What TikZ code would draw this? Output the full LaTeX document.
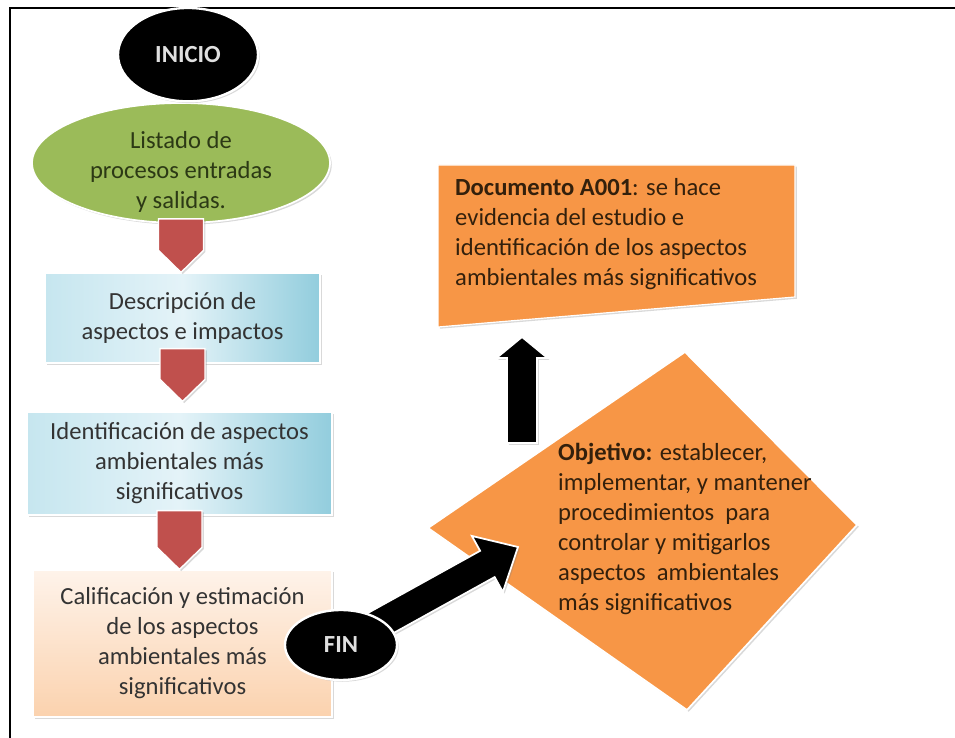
\documentclass[tikz,border=0pt]{standalone}
\usepackage{fontspec}
\setmainfont{Carlito}
\usepackage{tikz}
\usetikzlibrary{calc}
\usetikzlibrary{shapes.geometric}
\usetikzlibrary{shadows}

\definecolor{grn}{HTML}{9BBB59}
\definecolor{grntxt}{HTML}{2C3915}
\definecolor{chevred}{HTML}{C0504D}
\definecolor{blA}{HTML}{C6E6EF}
\definecolor{blB}{HTML}{E4F3F8}
\definecolor{blC}{HTML}{92CDDD}
\definecolor{pchA}{HTML}{FEF3EA}
\definecolor{pchB}{HTML}{FBD2AE}
\definecolor{org}{HTML}{F79646}
\definecolor{brn}{HTML}{33200C}
\definecolor{gtxt}{HTML}{333333}

\pgfdeclarelayer{back}
\pgfsetlayers{back,main}

\begin{document}
\begin{tikzpicture}[x=1cm,y=1cm,
    every node/.style={font=\fontsize{21}{25.6}\selectfont},
    shad/.style={drop shadow={opacity=0.3,shadow xshift=1.5pt,shadow yshift=-1.5pt}},
    blackell/.style={ellipse,fill=black,draw=white,line width=2pt,shad,
      text=white!88!black,font=\fontsize{21}{25.6}\selectfont\bfseries,inner sep=0pt},
    greenell/.style={ellipse,fill=grn,draw=white,line width=1.5pt,shad,
      minimum width=8.94cm,minimum height=3.6cm},
    bluebox/.style={rectangle,left color=blA,right color=blC,middle color=blB,
      draw=white,line width=1pt,shad,align=center,text=gtxt},
    peachbox/.style={rectangle,top color=pchA,bottom color=pchB,
      draw=white,line width=1pt,shad,align=center,text=gtxt},
    doctext/.style={align=left,text=brn,inner sep=0pt,anchor=north west},
    chevarrow/.style={fill=chevred,draw=white,line width=1.2pt,shad},
    blkarrow/.style={fill=black,draw=white,line width=1.5pt,shad},
    chev/.style={to path={
      ($(\tikztostart)+(-0.675,0)$) -- ($(\tikztostart)+(0.675,0)$)
      -- ($(\tikztostart |- \tikztotarget)+(0.675,0.66)$)
      -- (\tikztostart |- \tikztotarget)
      -- ($(\tikztostart |- \tikztotarget)+(-0.675,0.66)$) -- cycle}},
    blk/.style n args={3}{to path={
      ($(\tikztostart)!#1!90:(\tikztotarget)$)
      -- ($(\tikztotarget)!#3!(\tikztostart)!#1!90:(\tikztotarget)$)
      -- ($(\tikztotarget)!#3!(\tikztostart)!#2!90:(\tikztotarget)$)
      -- (\tikztotarget)
      -- ($(\tikztotarget)!#3!(\tikztostart)!#2!-90:(\tikztotarget)$)
      -- ($(\tikztotarget)!#3!(\tikztostart)!#1!-90:(\tikztotarget)$)
      -- ($(\tikztostart)!#1!-90:(\tikztotarget)$) -- cycle}}]

  % marco
  \useasboundingbox (0,0) rectangle (28.65,22.14);
  \draw[line width=1.6pt] (0.3,0) -- (0.3,21.9) -- (28.65,21.9);

  % columna izquierda
  \node[greenell] (list) at (5.43,17.25) {};
  \node[align=center,text=grntxt] (listtxt) at ([yshift=-0.28cm]list.center)
    {Listado de\\procesos entradas\\y salidas.};
  \node[blackell,minimum width=4.2cm,minimum height=2.8cm] (inicio) at (5.64,20.5) {INICIO};

  \node[bluebox,minimum width=8.25cm,minimum height=2.7cm] (desc) at (5.475,12.6)
    {Descripción de\\aspectos e impactos};
  \node[bluebox,minimum width=9.15cm,minimum height=3.09cm] (ident) at (5.385,8.235)
    {Identificación de aspectos\\ambientales más\\significativos};
  \node[peachbox,minimum width=8.97cm,minimum height=4.41cm] (calif) at (5.475,2.835)
    {Calificación y estimación\\de los aspectos\\ambientales más\\significativos};

  \coordinate (c1) at ([yshift=0.15cm]list.south);
  \coordinate (c2) at ([yshift=0.45cm]desc.south);
  \coordinate (t2) at ([yshift=0.3cm]ident.north);
  \coordinate (c3) at ([yshift=0.15cm]ident.south);
  \draw[chevarrow] (c1) to[chev] (desc.north);
  \draw[chevarrow] (c2) to[chev] (t2);
  \draw[chevarrow] (c3) to[chev] (calif.north);

  % documento A001
  \coordinate (d1) at (13.14,17.19);
  \coordinate (d2) at (23.85,17.19);
  \coordinate (d3) at (23.85,13.23);
  \coordinate (d4) at (13.14,12.33);
  \path[fill=org,draw=white,line width=1pt,shad] (d1) -- (d2) -- (d3) -- (d4) -- cycle;
  \node[doctext] (doc) at (13.65,16.80)
    {\textbf{Documento A001}: se hace\\evidencia del estudio e\\identificación de los aspectos\\ambientales más significativos};

  % objetivo
  \coordinate (o1) at (20.55,11.58);
  \coordinate (o2) at (25.71,6.39);
  \coordinate (o3) at (20.61,0.84);
  \coordinate (o4) at (12.84,6.30);
  \begin{pgfonlayer}{back}
    \path[fill=org,draw=white,line width=1.5pt,shad] (o1) -- (o2) -- (o3) -- (o4) -- cycle;
  \end{pgfonlayer}
  \node[doctext] (obj) at (16.74,8.85)
    {\textbf{Objetivo:} establecer,\\implementar, y mantener\\procedimientos\ \ para\\controlar y mitigarlos\\aspectos\ \ ambientales\\más significativos};

  \coordinate (upfoot) at (15.66,8.85);
  \coordinate (uptip) at (15.66,12.03);
  \draw[blkarrow] (upfoot) to[blk={0.45cm}{0.765cm}{0.63cm}] (uptip);

  % fin
  \node[blackell,minimum width=3.36cm,minimum height=2.1cm] (fin) at (10.23,2.79) {FIN};
  \coordinate (objin) at (15.54,5.73);
  \begin{pgfonlayer}{back}
    \draw[blkarrow] (fin.center) to[blk={0.45cm}{0.96cm}{1.05cm}] (objin);
  \end{pgfonlayer}
\end{tikzpicture}
\end{document}
